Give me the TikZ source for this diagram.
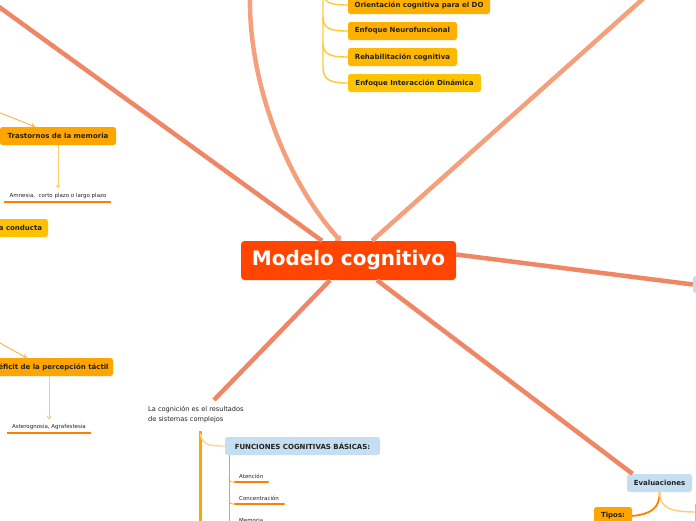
\documentclass[tikz,border=0pt]{standalone}
\usepackage{fontspec}
\setmainfont{DejaVu Sans}
\usetikzlibrary{arrows.meta}
\definecolor{central}{HTML}{FF4500}
\definecolor{mainA}{HTML}{EF8766}
\definecolor{mainB}{HTML}{F5A07D}
\definecolor{orA}{HTML}{FFA500}
\definecolor{orB}{HTML}{FFAF00}
\definecolor{orC}{HTML}{FFB800}
\definecolor{orD}{HTML}{FFC400}
\definecolor{yel}{HTML}{FFC000}
\definecolor{lblue}{HTML}{C6DEF1}
\definecolor{brk}{HTML}{FFC933}
\definecolor{uline}{HTML}{FF8000}
\definecolor{arr}{HTML}{FFB340}
\definecolor{arrL}{HTML}{FFCC70}
\definecolor{txt}{HTML}{222222}
\tikzset{
  box/.style={rectangle, rounded corners=2.5pt, inner sep=0pt, minimum height=18pt,
    font=\fontsize{7}{8}\selectfont\bfseries, text=txt},
  small/.style={inner sep=0pt, font=\fontsize{5.5}{6.5}\selectfont, text=txt},
  mainline/.style={line width=4.5pt},
  brackline/.style={draw=brk, line width=1.4pt},
  uln/.style={draw=uline, line width=2.6pt, line cap=round},
  thinarr/.style={draw=arr, line width=0.9pt, -{Straight Barb[length=3pt,width=4pt]}},
}
\begin{document}
\begin{tikzpicture}[x=1pt,y=-1pt]
\useasboundingbox (0,0) rectangle (696,520);
\fill[white] (0,0) rectangle (696,520);

% free ends
\coordinate (tl) at (-5,4);
\coordinate (topc) at (250,-6);
\coordinate (tr) at (645,-3);
\coordinate (bl) at (214,400);

% central
\node[rectangle, rounded corners=3.5pt, fill=central, minimum width=215pt, minimum height=39pt,
  inner sep=0pt, text=white, font=\fontsize{20}{22}\selectfont\bfseries] (c) at (348.5,260.5) {Modelo cognitivo};

% right partial node
\node[box, fill=lblue, minimum width=22pt, minimum height=17pt] (rb) at (704,284.5) {};
% evaluaciones
\node[box, fill=lblue, minimum width=65pt] (ev) at (659.5,483) {Evaluaciones};
\node[box, fill=orA, minimum width=38pt] (tip) at (613,516) {Tipos:};

% main connectors
\draw[mainline, draw=mainA] ([xshift=-26.5pt]c.north) -- (tl);
\draw[mainline, draw=mainB, -{Straight Barb[length=3pt,width=7pt,line width=1.5pt]}] (topc) .. controls (248,80) and (285,180) .. ([xshift=-8pt]c.north);
\draw[mainline, draw=mainB] ([xshift=23.5pt]c.north) -- (tr);
\draw[mainline, draw=mainA] ([yshift=6pt]c.east) -- (rb.west);
\draw[mainline, draw=mainA] ([xshift=-18.5pt]c.south) -- (bl);
\draw[mainline, draw=mainA] ([xshift=28.5pt]c.south) -- ([xshift=-27pt]ev.north);

% top-right cluster
\node[box, fill=orB, minimum width=142pt] (o1) at (419,5) {Orientación cognitiva para el DO};
\node[box, fill=orB, minimum width=109pt] (o2) at (402.5,31) {Enfoque Neurofuncional};
\node[box, fill=orC, minimum width=109pt] (o3) at (402.5,57) {Rehabilitación cognitiva};
\node[box, fill=orD, minimum width=133pt] (o4) at (414.5,83) {Enfoque Interacción Dinámica};
\draw[brackline] (323,-6) -- (323,68) .. controls (323,80) and (331,83) .. (o4.west);
\draw[brackline] (323,-8) .. controls (323,3) and (331,5) .. (o1.west);
\draw[brackline] (323,17) .. controls (323,29) and (331,31) .. (o2.west);
\draw[brackline] (323,43) .. controls (323,55) and (331,57) .. (o3.west);

% left cluster
\coordinate (la) at (-2,112);
\coordinate (lb) at (-2,342);
\node[box, fill=orA, minimum width=116pt] (tm) at (58,136) {Trastornos de la memoria};
\node[small] (am) at (58,195.5) {Amnesia,\ \ corto plazo o largo plazo};
\draw[uln, line cap=butt] (4,202) -- (111,202);
\draw[thinarr] (la) -- ([xshift=-23pt]tm.north);
\draw[thinarr, draw=arrL] (tm.south) -- ([yshift=4pt]am.north);

\node[box, fill=yel, minimum width=55pt] (cd) at (20.5,228) {a conducta};

\node[box, fill=orA, minimum width=130pt] (df) at (48,367) {\hspace*{11pt}éficit de la percepción táctil};
\node[small] (as) at (49,426.5) {Asterognosia, Agrafestesia};
\draw[uln, line cap=butt] (7,433) -- (91,433);
\draw[thinarr] (lb) -- (27,358);
\draw[thinarr, draw=arrL] (49,376) -- ([yshift=4pt]as.north);

% bottom-left cluster
\node[inner sep=0pt, anchor=north west, align=left, text=txt,
  font=\fontsize{6.6}{10}\selectfont] (lc) at (148,406) {La cognición es el resultados\\de sistemas complejos};
\node[box, fill=lblue, minimum width=155pt] (fc) at (302.5,446) {FUNCIONES COGNITIVAS BÁSICAS:};
\draw[draw=orA, line width=3pt] (200,431) -- (200,525);
\draw[draw=orA!45, line width=1.4pt] (200.5,434) .. controls (202,446) and (212,446) .. (fc.west);
\draw[draw=orA, line width=1pt] (229,455) -- (229,525);

\node[small, anchor=south west] (at) at (239,479) {Atención};
\draw[uln] (235,482) -- (268,482);
\draw[draw=orA, line width=0.7pt] (229,478) .. controls (229,482) and (231,482) .. (235,482);
\node[small, anchor=south west] (co) at (239,501) {Concentración};
\draw[uln] (235,504) -- (284,504);
\draw[draw=orA, line width=0.7pt] (229,500) .. controls (229,504) and (231,504) .. (235,504);
\node[small, anchor=south west] (me) at (239,523) {Memoria};

% evaluaciones branches
\coordinate (er) at (697,512);
\draw[draw=uline, line width=1.8pt] (ev.south) .. controls (660,509) and (650,514) .. (tip.east);
\draw[draw=orA!55, line width=1.4pt] (ev.south) .. controls (660,509) and (672,512) .. (er);
\draw[draw=yel, line width=2pt] (695.5,504) -- (695.5,521);
\end{tikzpicture}
\end{document}
